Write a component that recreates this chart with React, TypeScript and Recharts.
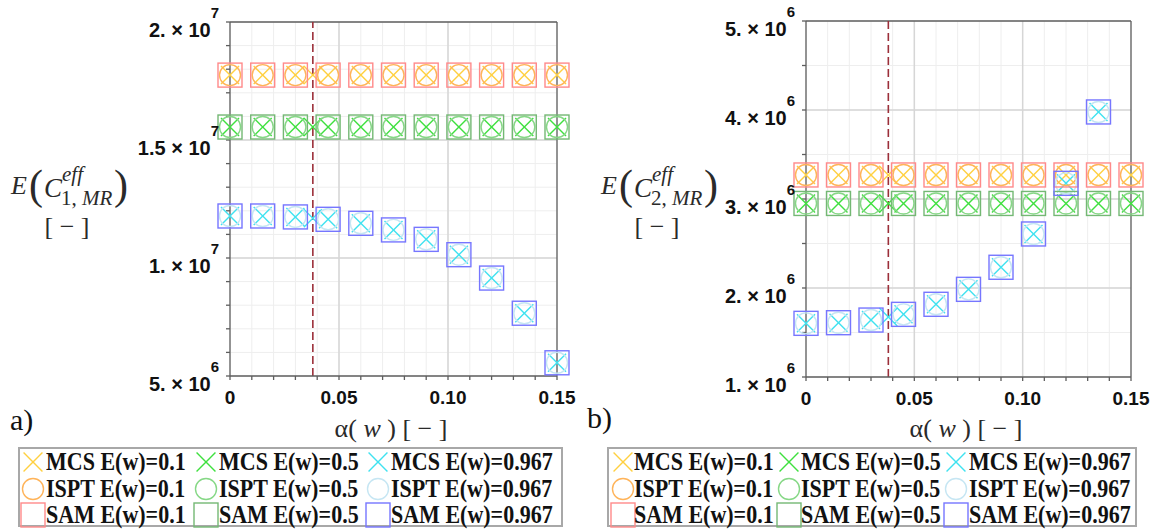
import React from "react";
import { ScatterChart, Scatter, XAxis, YAxis, CartesianGrid, ReferenceLine } from "recharts";

// alpha(w) grid used for ISPT and SAM
const alpha = [0, 0.015, 0.03, 0.045, 0.06, 0.075, 0.09, 0.105, 0.12, 0.135, 0.15];
// MCS also has a point at the threshold
const alphaMcs = [0, 0.015, 0.03, 0.038, 0.045, 0.06, 0.075, 0.09, 0.105, 0.12, 0.135, 0.15];
const alphaThreshold = 0.038;

// panel a) E(C1,MR)
const c1Low = [1.775e7, 1.775e7, 1.775e7, 1.775e7, 1.775e7, 1.775e7, 1.775e7, 1.775e7, 1.775e7, 1.775e7, 1.775e7];
const c1LowMcs = [1.775e7, 1.775e7, 1.775e7, 1.775e7, 1.775e7, 1.775e7, 1.775e7, 1.775e7, 1.775e7, 1.775e7, 1.775e7, 1.775e7];
const c1Mid = [1.555e7, 1.555e7, 1.555e7, 1.555e7, 1.555e7, 1.555e7, 1.555e7, 1.555e7, 1.555e7, 1.555e7, 1.555e7];
const c1MidMcs = [1.555e7, 1.555e7, 1.555e7, 1.555e7, 1.555e7, 1.555e7, 1.555e7, 1.555e7, 1.555e7, 1.555e7, 1.555e7, 1.555e7];
const c1High = [1.178e7, 1.178e7, 1.174e7, 1.164e7, 1.147e7, 1.119e7, 1.079e7, 1.014e7, 9.15e6, 7.66e6, 5.56e6];
const c1HighMcs = [1.178e7, 1.178e7, 1.174e7, 1.168e7, 1.164e7, 1.147e7, 1.119e7, 1.079e7, 1.014e7, 9.15e6, 7.66e6, 5.56e6];

// panel b) E(C2,MR)
const c2Low = [3.27e6, 3.27e6, 3.27e6, 3.27e6, 3.27e6, 3.27e6, 3.27e6, 3.27e6, 3.27e6, 3.27e6, 3.27e6];
const c2LowMcs = [3.27e6, 3.27e6, 3.27e6, 3.27e6, 3.27e6, 3.27e6, 3.27e6, 3.27e6, 3.27e6, 3.27e6, 3.27e6, 3.27e6];
const c2Mid = [2.95e6, 2.95e6, 2.95e6, 2.95e6, 2.95e6, 2.95e6, 2.95e6, 2.95e6, 2.95e6, 2.95e6, 2.95e6];
const c2MidMcs = [2.95e6, 2.95e6, 2.95e6, 2.95e6, 2.95e6, 2.95e6, 2.95e6, 2.95e6, 2.95e6, 2.95e6, 2.95e6, 2.95e6];
const c2High = [1.603e6, 1.61e6, 1.64e6, 1.704e6, 1.817e6, 1.985e6, 2.233e6, 2.607e6, 3.176e6, 3.978e6];
const c2HighMcs = [1.603e6, 1.61e6, 1.64e6, 1.675e6, 1.704e6, 1.817e6, 1.985e6, 2.233e6, 2.607e6, 3.176e6, 3.978e6];

// axes
const xTicks = [0, 0.01, 0.02, 0.03, 0.04, 0.05, 0.06, 0.07, 0.08, 0.09, 0.1, 0.11, 0.12, 0.13, 0.14, 0.15];
const xMajor = [0.05, 0.1];
const xLabels = [
  { v: 0, t: "0" },
  { v: 0.05, t: "0.05" },
  { v: 0.1, t: "0.10" },
  { v: 0.15, t: "0.15" },
];
const y1Ticks = [5e6, 6e6, 7e6, 8e6, 9e6, 1e7, 1.1e7, 1.2e7, 1.3e7, 1.4e7, 1.5e7, 1.6e7, 1.7e7, 1.8e7, 1.9e7, 2e7];
const y1Major = [1e7, 1.5e7];
const y1Labels = [
  { v: 5e6, t: "5. × 10", e: "6" },
  { v: 1e7, t: "1. × 10", e: "7" },
  { v: 1.5e7, t: "1.5 × 10", e: "7" },
  { v: 2e7, t: "2. × 10", e: "7" },
];
const y2Ticks = [1e6, 1.5e6, 2e6, 2.5e6, 3e6, 3.5e6, 4e6, 4.5e6, 5e6];
const y2Major = [2e6, 3e6, 4e6];
const y2Labels = [
  { v: 1e6, t: "1. × 10", e: "6" },
  { v: 2e6, t: "2. × 10", e: "6" },
  { v: 3e6, t: "3. × 10", e: "6" },
  { v: 4e6, t: "4. × 10", e: "6" },
  { v: 5e6, t: "5. × 10", e: "6" },
];

const legendNames = [
  "MCS E(w)=0.1", "MCS E(w)=0.5", "MCS E(w)=0.967",
  "ISPT E(w)=0.1", "ISPT E(w)=0.5", "ISPT E(w)=0.967",
  "SAM E(w)=0.1", "SAM E(w)=0.5", "SAM E(w)=0.967",
];

const COLORS = {
  crossLow: "#ffd040",
  crossMid: "#3fe03f",
  crossHigh: "#3fe2f0",
  circLow: "#ffb45a",
  circMid: "#86d886",
  circHigh: "#c6e6f3",
  sqLow: "#ff8a8a",
  sqMid: "#74b874",
  sqHigh: "#7676ff",
};
const legendKinds = ["cross", "cross", "cross", "circle", "circle", "circle", "square", "square", "square"];
const legendColors = [
  COLORS.crossLow, COLORS.crossMid, COLORS.crossHigh,
  COLORS.circLow, COLORS.circMid, COLORS.circHigh,
  COLORS.sqLow, COLORS.sqMid, COLORS.sqHigh,
];

const SANS = "'Liberation Sans', Arial, sans-serif";
const SERIF = "'Liberation Serif', 'Times New Roman', serif";
const AXIS = "#5e5e5e";

const pts = (xs: number[], ys: number[]) => ys.map((y, i) => ({ x: xs[i], y }));
const near = (a: number, b: number) => Math.abs(a - b) < 1e-9 * Math.max(1, Math.abs(b));

function Marker({ kind, cx, cy, color, size = 1 }: any) {
  if (cx == null || cy == null) return null;
  if (kind === "cross") {
    const h = 9 * size;
    return (
      <g stroke={color} strokeWidth={1.4}>
        <line x1={cx - h} y1={cy - h} x2={cx + h} y2={cy + h} />
        <line x1={cx - h} y1={cy + h} x2={cx + h} y2={cy - h} />
      </g>
    );
  }
  if (kind === "circle") {
    return <circle cx={cx} cy={cy} r={10.5 * size} fill="none" stroke={color} strokeWidth={1.4} />;
  }
  const h = 12 * size;
  return <rect x={cx - h} y={cy - h} width={2 * h} height={2 * h} fill="none" stroke={color} strokeWidth={1.4} />;
}

function XTick(props: any) {
  const { x, y, payload } = props;
  const lab = xLabels.find((l) => near(payload.value, l.v));
  if (!lab) return null;
  return (
    <text x={x} y={y + 22} textAnchor="middle" fontFamily={SANS} fontSize={19} fill="#111" style={{ fontWeight: 700 }}>
      {lab.t}
    </text>
  );
}

function makeYTick(labels: { v: number; t: string; e: string }[]) {
  return (props: any) => {
    const { x, y, payload } = props;
    const lab = labels.find((l) => near(payload.value, l.v));
    if (!lab) return null;
    return (
      <text
        x={x - 5}
        y={y + 15}
        textAnchor="end"
        fontFamily={SANS}
        fontSize={20}
        fill="#111"
        style={{ fontWeight: 700, fontSize: 20 }}
      >
        {lab.t}
        <tspan dy={-19} style={{ fontSize: 15 }}>{lab.e}</tspan>
      </text>
    );
  };
}

type Series = { data: { x: number; y: number }[]; kind: string; color: string };

function Panel({
  series, yTicks, yMajor, yLabels, yDomain, margin, width,
}: {
  series: Series[]; yTicks: number[]; yMajor: number[]; yLabels: any[];
  yDomain: [number, number]; margin: any; width: number;
}) {
  return (
    <ScatterChart width={width} height={445} margin={margin}>
      <CartesianGrid stroke="#eeeeee" strokeWidth={1} />
      {xMajor.map((v) => (
        <ReferenceLine key={"gx" + v} x={v} stroke="#d6d6d6" strokeWidth={1.5} />
      ))}
      {yMajor.map((v) => (
        <ReferenceLine key={"gy" + v} y={v} stroke="#d6d6d6" strokeWidth={1.5} />
      ))}
      <XAxis
        type="number"
        dataKey="x"
        domain={[0, 0.15]}
        ticks={xTicks}
        interval={0}
        height={50}
        tickSize={4}
        tick={<XTick />}
        stroke={AXIS}
        strokeWidth={1.3}
      />
      <YAxis
        type="number"
        dataKey="y"
        domain={yDomain}
        ticks={yTicks}
        interval={0}
        width={100}
        tickSize={4}
        tick={makeYTick(yLabels)}
        stroke={AXIS}
        strokeWidth={1.3}
      />
      <ReferenceLine y={yDomain[1]} stroke={AXIS} strokeWidth={1.3} />
      <ReferenceLine x={0.15} stroke={AXIS} strokeWidth={1.3} />
      {series.map((s, i) => (
        <Scatter
          key={i}
          data={s.data}
          isAnimationActive={false}
          legendType="none"
          shape={(p: any) => <Marker kind={s.kind} cx={p.cx} cy={p.cy} color={s.color} />}
        />
      ))}
      <ReferenceLine x={alphaThreshold} stroke="#9c2f3a" strokeWidth={1.6} strokeDasharray="8 4" />
    </ScatterChart>
  );
}

function YTitle({ x0, idx }: { x0: number; idx: string }) {
  return (
    <g fontFamily={SERIF} fill="#2a2a2a">
      <text x={x0} y={194} fontSize={26} fontStyle="italic">E</text>
      <text x={x0 + 18} y={199} fontSize={42}>(</text>
      <text x={x0 + 33} y={197} fontSize={27} fontStyle="italic">C</text>
      <text x={x0 + 51} y={181} fontSize={21} fontStyle="italic">eff</text>
      <text x={x0 + 50} y={205} fontSize={21}>
        {idx}, <tspan fontStyle="italic">MR</tspan>
      </text>
      <text x={x0 + 103} y={199} fontSize={42}>)</text>
      <text x={x0 + 56} y={235} fontSize={26} textAnchor="middle">[ − ]</text>
    </g>
  );
}

function XTitle({ cx }: { cx: number }) {
  return (
    <text x={cx} y={437} textAnchor="middle" fontFamily={SERIF} fontSize={26} fill="#2a2a2a">
      α( <tspan fontStyle="italic">w</tspan> ) [ − ]
    </text>
  );
}

function LegendBox({ left, width, iconX, textX }: { left: number; width: number; iconX: number[]; textX: number[] }) {
  const rows = [462, 489, 515];
  return (
    <div
      style={{
        position: "absolute",
        left,
        top: 447,
        width,
        height: 80,
        border: "2px solid #a8a8a8",
        boxSizing: "border-box",
        background: "#fff",
      }}
    >
      {legendNames.map((name, i) => {
        const col = i % 3;
        const row = Math.floor(i / 3);
        const cy = rows[row] - 447;
        return (
          <React.Fragment key={name}>
            <svg
              width={26}
              height={26}
              style={{ position: "absolute", left: iconX[col] - left - 2, top: cy - 13 - 2 }}
            >
              <Marker kind={legendKinds[i]} cx={13} cy={13} color={legendColors[i]} size={legendKinds[i] === "cross" ? 1.05 : 1} />
            </svg>
            <div
              style={{
                position: "absolute",
                left: textX[col] - left - 2,
                top: cy - 15 - 2,
                height: 30,
                lineHeight: "30px",
                fontFamily: SERIF,
                fontWeight: "bold",
                fontSize: 25,
                color: "#111",
                whiteSpace: "nowrap",
                transform: "scaleX(0.88)",
                transformOrigin: "left center",
              }}
            >
              {name}
            </div>
          </React.Fragment>
        );
      })}
    </div>
  );
}

export default function App() {
  const left: Series[] = [
    { data: pts(alphaMcs, c1LowMcs), kind: "cross", color: COLORS.crossLow },
    { data: pts(alphaMcs, c1MidMcs), kind: "cross", color: COLORS.crossMid },
    { data: pts(alphaMcs, c1HighMcs), kind: "cross", color: COLORS.crossHigh },
    { data: pts(alpha, c1Low), kind: "circle", color: COLORS.circLow },
    { data: pts(alpha, c1Mid), kind: "circle", color: COLORS.circMid },
    { data: pts(alpha, c1High), kind: "circle", color: COLORS.circHigh },
    { data: pts(alpha, c1Low), kind: "square", color: COLORS.sqLow },
    { data: pts(alpha, c1Mid), kind: "square", color: COLORS.sqMid },
    { data: pts(alpha, c1High), kind: "square", color: COLORS.sqHigh },
  ];
  const right: Series[] = [
    { data: pts(alphaMcs, c2LowMcs), kind: "cross", color: COLORS.crossLow },
    { data: pts(alphaMcs, c2MidMcs), kind: "cross", color: COLORS.crossMid },
    { data: pts(alphaMcs, c2HighMcs), kind: "cross", color: COLORS.crossHigh },
    { data: pts(alpha, c2Low), kind: "circle", color: COLORS.circLow },
    { data: pts(alpha, c2Mid), kind: "circle", color: COLORS.circMid },
    { data: pts(alpha, c2High), kind: "circle", color: COLORS.circHigh },
    { data: pts(alpha, c2Low), kind: "square", color: COLORS.sqLow },
    { data: pts(alpha, c2Mid), kind: "square", color: COLORS.sqMid },
    { data: pts(alpha, c2High), kind: "square", color: COLORS.sqHigh },
  ];

  return (
    <div style={{ position: "absolute", left: 0, top: 0, width: 1164, height: 529, background: "#fff", overflow: "hidden" }}>
      <div style={{ position: "absolute", left: 0, top: 0 }}>
        <Panel
          series={left}
          yTicks={y1Ticks}
          yMajor={y1Major}
          yLabels={y1Labels}
          yDomain={[5e6, 2e7]}
          width={580}
          margin={{ top: 22, right: 23, bottom: 19, left: 130 }}
        />
      </div>
      <div style={{ position: "absolute", left: 580, top: 0 }}>
        <Panel
          series={right}
          yTicks={y2Ticks}
          yMajor={y2Major}
          yLabels={y2Labels}
          yDomain={[1e6, 5e6]}
          width={584}
          margin={{ top: 21, right: 33, bottom: 18, left: 126 }}
        />
      </div>
      <svg width={1164} height={445} style={{ position: "absolute", left: 0, top: 0, pointerEvents: "none" }}>
        <YTitle x0={11} idx="1" />
        <YTitle x0={601} idx="2" />
        <XTitle cx={391} />
        <XTitle cx={966} />
        <text x={10} y={430} fontFamily={SERIF} fontSize={30} fill="#111">a)</text>
        <text x={587} y={428} fontFamily={SERIF} fontSize={30} fill="#111">b)</text>
      </svg>
      <LegendBox left={18} width={545} iconX={[20, 193, 365]} textX={[46, 219, 391]} />
      <LegendBox left={607} width={530} iconX={[610, 776, 943]} textX={[634, 801, 969]} />
    </div>
  );
}
